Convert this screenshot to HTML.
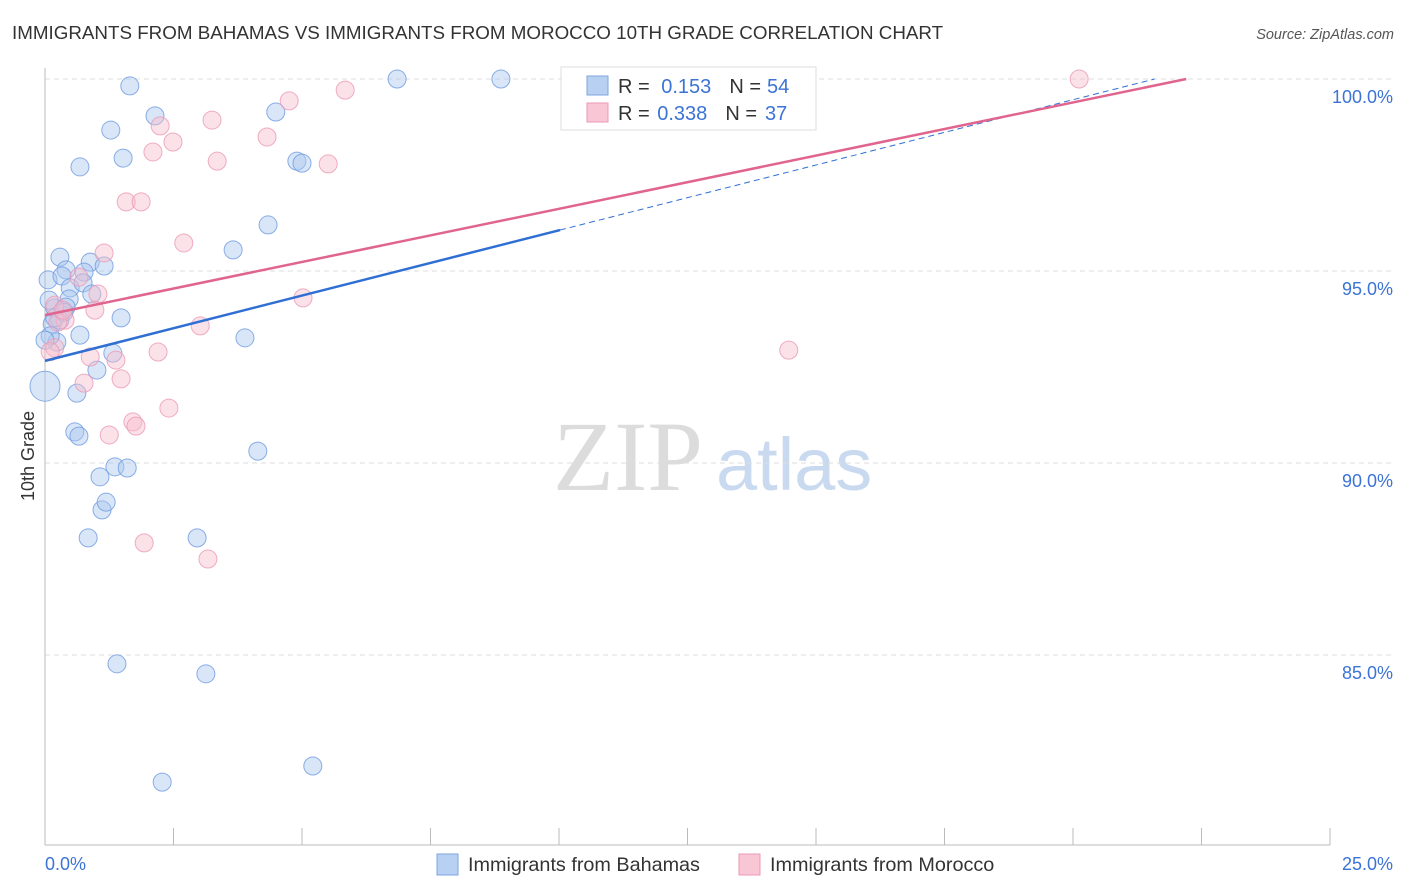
<!DOCTYPE html>
<html><head><meta charset="utf-8"><style>
body{margin:0;background:#fff;font-family:"Liberation Sans",sans-serif}
svg{display:block}
</style></head><body>
<svg id="chart" width="1406" height="892" viewBox="0 0 1406 892">
<text x="12" y="39" font-size="18.8" fill="#333">IMMIGRANTS FROM BAHAMAS VS IMMIGRANTS FROM MOROCCO 10TH GRADE CORRELATION CHART</text>
<text x="1394" y="39" font-size="14.5" fill="#555" font-style="italic" text-anchor="end">Source: ZipAtlas.com</text>
<g>
<text x="553" y="490" font-family="Liberation Serif,serif" font-size="100" fill="#dcdcdc">ZIP</text>
<text x="716" y="490" font-size="74" fill="#c9daf0">atlas</text>
</g>
<g id="grid"></g>
<g id="axes"></g>
<g id="pts"></g>
<g id="lines"></g>
<g>
<rect x="561" y="67" width="255" height="63" fill="#fff" stroke="#ddd"/>
<rect x="587" y="76" width="21" height="19" fill="#b8d1f3" stroke="#7ea6e0"/>
<rect x="587" y="103" width="21" height="19" fill="#f9c6d5" stroke="#ec9ab4"/>
<text x="618" y="93" font-size="20" fill="#333">R = <tspan fill="#3b73d6" dx="6">0.153</tspan><tspan dx="18" fill="#333">N =</tspan><tspan dx="6" fill="#3b73d6">54</tspan></text>
<text x="618" y="120" font-size="20" fill="#333">R = <tspan fill="#3b73d6" dx="2">0.338</tspan><tspan dx="18" fill="#333">N =</tspan><tspan dx="8" fill="#3b73d6">37</tspan></text>
</g>
<g>
<rect x="437" y="854" width="21" height="21" fill="#b8d1f3" stroke="#7ea6e0"/>
<text x="468" y="871" font-size="19.8" fill="#333">Immigrants from Bahamas</text>
<rect x="739" y="854" width="21" height="21" fill="#f9c6d5" stroke="#ec9ab4"/>
<text x="770" y="871" font-size="19.8" fill="#333">Immigrants from Morocco</text>
</g>
<text transform="translate(34,456) rotate(-90)" font-size="18" fill="#333" text-anchor="middle">10th Grade</text>
</svg>
<script>
const yTicks=[100,95,90,85];
const yTickLabels=["100.0%","95.0%","90.0%","85.0%"];
const xTickLabels=["0.0%","25.0%"];
const blueX=[1.65,6.85,8.87,2.14,1.28,4.49,1.52,0.68,4.90,5.00,4.34,3.66,0.29,0.88,1.15,0.41,0.76,0.06,0.33,0.49,0.74,0.91,0.47,0.19,0.41,0.14,1.48,0.68,0.23,3.89,1.32,1.01,0,0.62,0.58,0.66,4.14,1.36,1.60,1.07,1.11,1.19,0.84,2.96,1.40,3.13,2.28,5.21,0.10,0.29,0.08,0.19,0.37,0];
const blueY=[99.82,100,100,99.04,98.67,99.14,97.94,97.71,97.86,97.81,96.2,95.55,95.36,95.23,95.13,95.03,94.97,94.77,94.87,94.56,94.69,94.40,94.27,94.04,94.06,93.62,93.78,93.33,93.15,93.26,92.86,92.42,92.0,91.82,90.81,90.70,90.31,89.9,89.87,89.64,88.78,88.98,88.05,88.05,84.77,84.51,81.69,82.11,93.31,93.72,94.24,93.78,93.93,93.2];
const pinkX=[20.12,4.75,5.84,3.25,2.24,2.49,2.10,3.35,4.32,5.51,1.58,1.87,1.15,2.70,0.66,1.03,5.02,0.97,0.19,0.39,0.25,3.02,2.20,0.88,1.38,0.19,1.48,0.76,2.41,1.71,1.77,1.25,14.47,1.93,3.17,0.35,0.1];
const pinkY=[100,99.43,99.71,98.93,98.78,98.36,98.10,97.86,98.49,97.79,96.80,96.80,95.47,95.73,94.84,94.40,94.30,93.98,94.11,93.72,93.67,93.57,92.89,92.76,92.68,93.0,92.19,92.08,91.43,91.07,90.96,90.73,92.94,87.92,87.50,93.98,92.9];
const blueLine=[92.66,0.34];const pinkLine=[93.85,0.277];
const NS="http://www.w3.org/2000/svg";
const xs=v=>45+v*51.4, ys=v=>79+(100-v)*38.4;
function mk(p,t,a){const e=document.createElementNS(NS,t);for(const k in a)e.setAttribute(k,a[k]);p.appendChild(e);return e;}
const grid=document.getElementById('grid'),axes=document.getElementById('axes'),pts=document.getElementById('pts'),lines=document.getElementById('lines');
yTicks.forEach((v,i)=>{
 const l=mk(grid,'line',{x1:45,x2:1393,y1:ys(v),y2:ys(v),stroke:'#ddd','stroke-dasharray':'5,4'});
 
 
 const t=mk(axes,'text',{x:1393,y:ys(v)+24,'text-anchor':'end','font-size':18,fill:'#3b73d6'});
 t.textContent=yTickLabels[i];
 
 
});
mk(axes,'line',{x1:45,x2:45,y1:68,y2:845,stroke:'#bbb'});
mk(axes,'line',{x1:45,x2:1330,y1:845,y2:845,stroke:'#bbb'});
for(let i=0;i<=10;i++){const tk=mk(axes,'line',{x1:xs(i*2.5),x2:xs(i*2.5),y1:828,y2:845,stroke:'#bbb'});
 
 }
[[0,'start',45],[25,'end',1393]].forEach((d,i)=>{const t=mk(axes,'text',{x:d[2],y:870,'text-anchor':d[1],'font-size':18,fill:'#3b73d6'});t.textContent=xTickLabels[i];
 
 });
function dots(X,Y,fill,stroke,name){X.forEach((x,i)=>{let r=9;if(x===0&&Y[i]===92.0)r=15;
 const c=mk(pts,'circle',{cx:xs(x),cy:ys(Y[i]),r:r,fill:fill,'fill-opacity':0.45,stroke:stroke,'stroke-width':1,'stroke-opacity':0.8});
 
 });}
dots(blueX,blueY,'#aac8f0','#6e9be0','bahamas-point');
dots(pinkX,pinkY,'#f7bccd','#eb9ab5','morocco-point');
const bEnd=10.02, bFull=(100-blueLine[0])/blueLine[1];
let l=mk(lines,'line',{x1:xs(0),y1:ys(blueLine[0]),x2:xs(bEnd),y2:ys(blueLine[0]+blueLine[1]*bEnd),stroke:'#2f6fd4','stroke-width':2.5});


l=mk(lines,'line',{x1:xs(bEnd),y1:ys(blueLine[0]+blueLine[1]*bEnd),x2:xs(bFull),y2:ys(100),stroke:'#2f6fd4','stroke-width':1,'stroke-dasharray':'6,4'});


const pEnd=(100-pinkLine[0])/pinkLine[1];
l=mk(lines,'line',{x1:xs(0),y1:ys(pinkLine[0]),x2:xs(pEnd),y2:ys(100),stroke:'#e0648e','stroke-width':2.5});


</script>
</body></html>
